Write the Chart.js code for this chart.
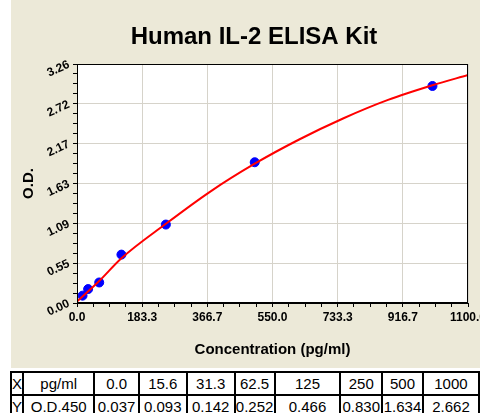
<!DOCTYPE html>
<html lang="en">
<head>
    <meta charset="UTF-8">
    <title>Human IL-2 ELISA Kit</title>
    <script src="https://cdn.jsdelivr.net/npm/chart.js"></script>
    <style>
        body { margin: 0; background: #fff; font-family: "Liberation Sans", Arial, sans-serif; }
        #wrap { position: relative; width: 480px; height: 413px; overflow: hidden; }
        #chart { position: absolute; left: 0; top: 0; }
        #tbl { position: absolute; left: 10px; top: 371px; border-collapse: collapse; table-layout: fixed; background: #fff; }
        #tbl td { border: 2px solid #000; padding: 0; height: 21px; line-height: 20px; font-size: 15px; text-align: center; white-space: nowrap; overflow: visible; color: #000; }
        #tbl td.lbl { text-align: left; }
    </style>
</head>
<body>
    <div id="wrap">
        <canvas id="chart" width="480" height="368"></canvas>
        <table id="tbl"></table>
    </div>

    <script>
        // standard points (pg/ml) and the O.D.
        const pointX = [15.6, 31.3, 62.5, 125, 250, 500, 1000];
        const pointY = [0.10, 0.19, 0.28, 0.66, 1.07, 1.92, 2.96];

        // fitted curve
        const curveX = [0, 62.5, 125, 250, 375, 500, 625, 750, 875, 1000, 1100];
        const curveY = [0.02, 0.30, 0.61, 1.08, 1.52, 1.90, 2.23, 2.52, 2.77, 2.97, 3.11];

        // axis tick labels
        const xMax = 1100;
        const yMax = 3.26;
        const xTickLabels = ['0.0', '183.3', '366.7', '550.0', '733.3', '916.7', '1100.0'];
        const yTickLabels = ['0.00', '0.55', '1.09', '1.63', '2.17', '2.72', '3.26'];

        // table under the chart
        const tableX = ['0.0', '15.6', '31.3', '62.5', '125', '250', '500', '1000'];
        const tableY = ['0.037', '0.093', '0.142', '0.252', '0.466', '0.830', '1.634', '2.662'];

        const gridColor = '#d6d3ca';
        Chart.defaults.font.family = '"Liberation Sans", Arial, sans-serif';

        // major ticks + 3 minor ticks between each pair
        function withMinor(max, n) {
            const out = [];
            for (let i = 0; i <= n * 4; i++) {
                out.push({ value: i === n * 4 ? max : i * max / (n * 4) });
            }
            return out;
        }

        const panel = {
            id: 'panel',
            beforeDraw(chart) {
                const ctx = chart.ctx;
                const a = chart.chartArea;
                ctx.save();
                ctx.fillStyle = '#fff';
                ctx.fillRect(0, 0, chart.width, chart.height);
                ctx.fillStyle = '#ece9d8';
                ctx.fillRect(11, 0, chart.width - 11, chart.height);
                ctx.fillStyle = '#fff';
                ctx.fillRect(a.left, a.top, a.right - a.left, a.bottom - a.top);
                ctx.fillStyle = '#000';
                ctx.font = 'bold 24px "Liberation Sans", Arial, sans-serif';
                ctx.textAlign = 'center';
                ctx.textBaseline = 'middle';
                ctx.fillText('Human IL-2 ELISA Kit', 254, 37);
                ctx.restore();
            },
            afterDraw(chart) {
                const ctx = chart.ctx;
                const a = chart.chartArea;
                ctx.save();
                ctx.strokeStyle = '#000';
                ctx.lineWidth = 1;
                ctx.strokeRect(a.left + 0.5, a.top + 0.5, a.right - a.left - 1, a.bottom - a.top - 1);
                ctx.restore();
            }
        };

        new Chart(document.getElementById('chart'), {
            type: 'scatter',
            data: {
                datasets: [
                    {
                        type: 'line',
                        data: curveX.map((x, i) => ({ x: x, y: curveY[i] })),
                        borderColor: '#ff0000',
                        borderWidth: 2,
                        pointRadius: 0,
                        fill: false,
                        cubicInterpolationMode: 'monotone',
                        order: 0
                    },
                    {
                        data: pointX.map((x, i) => ({ x: x, y: pointY[i] })),
                        backgroundColor: '#0000ff',
                        borderColor: '#0000ff',
                        pointRadius: 4.5,
                        order: 1
                    }
                ]
            },
            options: {
                responsive: false,
                animation: false,
                layout: { padding: { top: 64, right: 12, bottom: 0, left: 0 } },
                plugins: {
                    legend: { display: false },
                    tooltip: { enabled: false }
                },
                scales: {
                    x: {
                        type: 'linear',
                        min: 0,
                        max: xMax,
                        afterBuildTicks: s => { s.ticks = withMinor(xMax, 6); },
                        afterFit: s => { s.height = 65; s.paddingLeft = 0; s.paddingRight = 0; },
                        grid: {
                            color: c => c.index % 4 === 0 ? gridColor : 'rgba(0,0,0,0)',
                            tickColor: '#000',
                            tickLength: 4
                        },
                        border: { color: '#000', width: 1 },
                        ticks: {
                            autoSkip: false,
                            minRotation: 0,
                            maxRotation: 0,
                            padding: 3,
                            color: '#000',
                            font: { size: 12, weight: 'bold' },
                            callback: (v, i) => i % 4 === 0 ? xTickLabels[i / 4] : ''
                        },
                        title: {
                            display: true,
                            text: 'Concentration (pg/ml)',
                            color: '#000',
                            font: { size: 15, weight: 'bold' },
                            padding: { top: 0, bottom: 9 }
                        }
                    },
                    y: {
                        type: 'linear',
                        min: 0,
                        max: yMax,
                        afterBuildTicks: s => { s.ticks = withMinor(yMax, 6); },
                        afterFit: s => { s.width = 77; s.paddingTop = 0; s.paddingBottom = 0; },
                        grid: {
                            color: c => c.index % 4 === 0 ? gridColor : 'rgba(0,0,0,0)',
                            tickColor: '#000',
                            tickLength: 4
                        },
                        border: { color: '#000', width: 1 },
                        ticks: {
                            autoSkip: false,
                            minRotation: 25,
                            maxRotation: 25,
                            padding: 4,
                            color: '#000',
                            font: { size: 12, weight: 'bold' },
                            callback: (v, i) => i % 4 === 0 ? yTickLabels[i / 4] : ''
                        },
                        title: {
                            display: true,
                            text: 'O.D.',
                            color: '#000',
                            font: { size: 15, weight: 'bold' },
                            padding: { top: 20, bottom: 0 }
                        }
                    }
                }
            },
            plugins: [panel]
        });

        // build the table
        const colWidths = [9, 73, 45, 49, 49, 40, 69, 42, 41, 58];
        const tbl = document.getElementById('tbl');
        const cg = document.createElement('colgroup');
        colWidths.forEach(w => {
            const c = document.createElement('col');
            c.style.width = w + 'px';
            cg.appendChild(c);
        });
        tbl.appendChild(cg);
        [['X', 'pg/ml'].concat(tableX), ['Y', 'O.D.450'].concat(tableY)].forEach(row => {
            const tr = document.createElement('tr');
            row.forEach((txt, i) => {
                const td = document.createElement('td');
                td.textContent = txt;
                if (i === 0) td.className = 'lbl';
                tr.appendChild(td);
            });
            tbl.appendChild(tr);
        });
    </script>
</body>
</html>
